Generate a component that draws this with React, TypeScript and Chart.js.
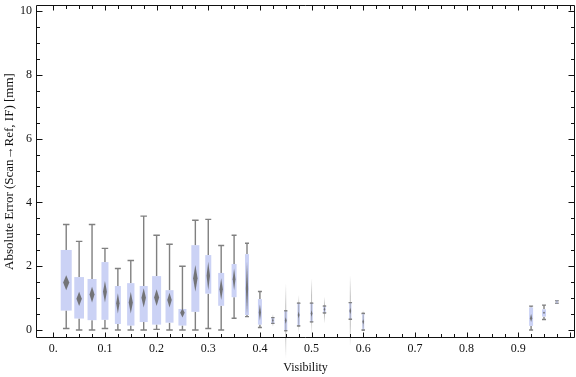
import React, { useEffect, useRef } from "react";
import { Chart, registerables } from "chart.js";

Chart.register(...registerables);

// Visibility bins (box centres)
const bins = [0.025, 0.05, 0.075, 0.1, 0.125, 0.15, 0.175, 0.2, 0.225, 0.25, 0.275, 0.3, 0.325, 0.35, 0.375, 0.4, 0.425, 0.45, 0.475, 0.5, 0.525, 0.575, 0.6, 0.925, 0.95, 0.975];
const whiskerLow = [0.05, 0, 0, 0.05, 0, 0, 0, 0.02, 0, 0, 0, 0.05, 0, 0.37, 0.42, 0.08, 0.21, -0.02, 0.13, 0.26, 0.54, 0.34, 0.0, 0.0, 0.33, 0.84];
const q1 = [0.61, 0.36, 0.31, 0.32, 0.19, 0.14, 0.25, 0.17, 0.23, 0.14, 0.57, 1.14, 0.76, 1.03, 0.47, 0.17, 0.21, -0.02, 0.15, 0.26, 0.54, 0.34, 0.02, 0.13, 0.42, 0.84];
const median = [1.49, 0.98, 1.11, 1.2, 0.84, 0.86, 1.01, 1.02, 0.94, 0.54, 1.62, 1.7, 1.28, 1.59, 1.3, 0.55, 0.3, 0.3, 0.47, 0.52, 0.65, 0.6, 0.26, 0.37, 0.54, 0.88];
const q3 = [2.51, 1.66, 1.6, 2.13, 1.38, 1.47, 1.38, 1.69, 1.25, 0.66, 2.66, 2.35, 1.79, 2.07, 2.38, 0.97, 0.39, 0.6, 0.84, 0.84, 0.75, 0.86, 0.5, 0.71, 0.65, 0.92];
const whiskerHigh = [3.31, 2.78, 3.31, 2.56, 1.93, 2.18, 3.57, 2.97, 2.69, 2.0, 3.44, 3.47, 2.65, 2.97, 2.72, 1.21, 0.39, 0.6, 0.84, 0.84, 0.75, 0.86, 0.52, 0.75, 0.78, 0.92];
const medianCiLow = [1.25, 0.75, 0.86, 0.86, 0.52, 0.52, 0.71, 0.75, 0.71, 0.39, 1.2, 1.25, 0.94, 1.25, 0.47, 0.3, 0.25, 0.2, 0.37, 0.42, 0.6, 0.5, 0.18, 0.25, 0.5, 0.86];
const medianCiHigh = [1.72, 1.2, 1.36, 1.54, 1.15, 1.2, 1.31, 1.28, 1.17, 0.68, 2.04, 2.14, 1.62, 1.93, 2.14, 0.8, 0.35, 0.4, 0.57, 0.62, 0.7, 0.7, 0.34, 0.5, 0.58, 0.9];
const faintLow: (number | null)[] = [null, null, null, null, null, null, null, null, null, null, null, null, null, null, null, null, 0.1, -0.88, -0.1, -0.16, 0.21, -0.52, -0.05, null, null, null];
const faintHigh: (number | null)[] = [null, null, null, null, null, null, null, null, null, null, null, null, null, null, null, null, 0.5, 1.46, 1.1, 1.62, 1.04, 1.72, 0.63, null, null, null];
const sampleWeight = [11, 9.7, 9, 7, 6, 7.3, 8, 9, 8, 8, 8, 6, 6, 5, 4, 4, 3, 3, 2.5, 2.5, 2.5, 2.3, 2, 4, 4, 2];

const xMajorTicks = [0, 0.1, 0.2, 0.3, 0.4, 0.5, 0.6, 0.7, 0.8, 0.9];
const xTickLabels = ["0.", "0.1", "0.2", "0.3", "0.4", "0.5", "0.6", "0.7", "0.8", "0.9"];
const xMinorTicks = Array.from({ length: 41 }, (_, i) => i * 0.025);
const yMajorTicks = [0, 2, 4, 6, 8, 10];
const yMinorTicks = Array.from({ length: 21 }, (_, i) => i * 0.5);

const FONT = "'Liberation Serif', 'Times New Roman', serif";
const BOX_FILL = "#cbd2f5";
const WHISKER = "#808080";
const MAXW = Math.max(...sampleWeight);

const boxPlugin = {
  id: "boxWhisker",
  afterDatasetsDraw(chart: any) {
    const { ctx, scales } = chart;
    const x = scales.x;
    const y = scales.y;
    ctx.save();
    bins.forEach((b, i) => {
      const cx = x.getPixelForValue(b);
      const w = (sampleWeight[i] / MAXW) * 11;
      const capW = Math.min(6.5, Math.max(w, 3.5));
      const yq1 = y.getPixelForValue(q1[i]);
      const yq3 = y.getPixelForValue(q3[i]);
      const ywl = y.getPixelForValue(whiskerLow[i]);
      const ywh = y.getPixelForValue(whiskerHigh[i]);
      ctx.strokeStyle = WHISKER;
      ctx.lineWidth = 1.4;
      ctx.beginPath();
      ctx.moveTo(cx, ywh);
      ctx.lineTo(cx, yq3);
      ctx.moveTo(cx, yq1);
      ctx.lineTo(cx, ywl);
      ctx.moveTo(cx - capW / 2, ywh);
      ctx.lineTo(cx + capW / 2, ywh);
      ctx.moveTo(cx - capW / 2, ywl);
      ctx.lineTo(cx + capW / 2, ywl);
      ctx.stroke();
      ctx.fillStyle = BOX_FILL;
      ctx.fillRect(cx - w / 2, yq3, w, yq1 - yq3);
      const fl = faintLow[i];
      const fh = faintHigh[i];
      if (fl !== null && fh !== null) {
        const ya = y.getPixelForValue(fh);
        const yb = y.getPixelForValue(fl);
        const g = ctx.createLinearGradient(0, ya, 0, yb);
        g.addColorStop(0, "rgba(128,128,128,0)");
        g.addColorStop(0.3, "rgba(128,128,128,0.5)");
        g.addColorStop(0.7, "rgba(128,128,128,0.5)");
        g.addColorStop(1, "rgba(128,128,128,0)");
        ctx.strokeStyle = g;
        ctx.lineWidth = 1;
        ctx.beginPath();
        ctx.moveTo(cx, ya);
        ctx.lineTo(cx, yb);
        ctx.stroke();
        ctx.strokeStyle = WHISKER;
        ctx.lineWidth = 1.2;
        ctx.beginPath();
        ctx.moveTo(cx - capW / 2 + 0.5, ywh);
        ctx.lineTo(cx + capW / 2 - 0.5, ywh);
        ctx.moveTo(cx - capW / 2 + 0.5, ywl);
        ctx.lineTo(cx + capW / 2 - 0.5, ywl);
        ctx.stroke();
      }
      const yd1 = y.getPixelForValue(medianCiHigh[i]);
      const yd2 = y.getPixelForValue(medianCiLow[i]);
      const ym = y.getPixelForValue(median[i]);
      const hw = Math.max(0.9, w * 0.28);
      ctx.save();
      ctx.filter = "blur(0.7px)";
      ctx.fillStyle = "rgba(105,105,105,0.9)";
      ctx.beginPath();
      ctx.moveTo(cx, yd1);
      ctx.lineTo(cx + hw, ym);
      ctx.lineTo(cx, yd2);
      ctx.lineTo(cx - hw, ym);
      ctx.closePath();
      ctx.fill();
      ctx.restore();
    });
    ctx.restore();
  },
  afterDraw(chart: any) {
    const { ctx, chartArea: a, scales } = chart;
    const x = scales.x;
    const y = scales.y;
    ctx.save();
    ctx.strokeStyle = "#111";
    ctx.lineWidth = 1;
    const L = Math.round(a.left) + 0.5;
    const R = Math.round(a.right) - 0.5;
    const T = Math.round(a.top) + 0.5;
    const B = Math.round(a.bottom) - 0.5;
    ctx.beginPath();
    ctx.rect(L, T, R - L, B - T);
    ctx.stroke();
    ctx.beginPath();
    xMinorTicks.forEach((v) => {
      const px = Math.round(x.getPixelForValue(v)) + 0.5;
      const major = xMajorTicks.some((m) => Math.abs(m - v) < 1e-6) || Math.abs(v - 1) < 1e-6;
      const len = major ? 5 : 3.5;
      ctx.moveTo(px, B);
      ctx.lineTo(px, B - len);
      ctx.moveTo(px, T);
      ctx.lineTo(px, T + len);
    });
    yMinorTicks.forEach((v) => {
      const py = Math.round(y.getPixelForValue(v)) + 0.5;
      const major = yMajorTicks.some((m) => Math.abs(m - v) < 1e-6);
      const len = major ? 6 : 3.5;
      ctx.moveTo(L, py);
      ctx.lineTo(L + len, py);
      ctx.moveTo(R, py);
      ctx.lineTo(R - len, py);
    });
    ctx.stroke();
    ctx.restore();
  },
};

export default function App() {
  const ref = useRef<HTMLCanvasElement | null>(null);
  useEffect(() => {
    if (!ref.current) return;
    const chart = new Chart(ref.current, {
      type: "scatter",
      data: {
        datasets: [
          {
            data: bins.map((b, i) => ({ x: b, y: median[i] })),
            pointRadius: 0,
            showLine: false,
          },
        ],
      },
      options: {
        animation: false,
        responsive: false,
        layout: { padding: { top: 5, right: 1, left: 0, bottom: 0 } },
        plugins: { legend: { display: false }, tooltip: { enabled: false } },
        scales: {
          x: {
            type: "linear",
            min: -0.0335,
            max: 1.01,
            grid: { display: false, drawTicks: false },
            border: { display: false },
            afterBuildTicks: (s: any) => {
              s.ticks = xMajorTicks.map((v) => ({ value: v }));
            },
            afterFit: (s: any) => {
              s.height = 39;
              s.paddingLeft = 0;
              s.paddingRight = 0;
            },
            ticks: {
              padding: 4,
              autoSkip: false,
              maxRotation: 0,
              color: "#111",
              font: { family: FONT, size: 12 },
              callback: (v: any) => {
                const idx = xMajorTicks.findIndex((m) => Math.abs(m - v) < 1e-6);
                return idx >= 0 ? xTickLabels[idx] : "";
              },
            },
            title: {
              display: true,
              text: "Visibility",
              color: "#111",
              font: { family: FONT, size: 12 },
              padding: { top: 0, bottom: 2 },
            },
          },
          y: {
            type: "linear",
            min: -0.25,
            max: 10.19,
            grid: { display: false, drawTicks: false },
            border: { display: false },
            afterBuildTicks: (s: any) => {
              s.ticks = yMajorTicks.map((v) => ({ value: v }));
            },
            afterFit: (s: any) => {
              s.width = 36;
              s.paddingTop = 0;
              s.paddingBottom = 0;
            },
            ticks: {
              padding: 4,
              color: "#111",
              font: { family: FONT, size: 12 },
              callback: (v: any) => String(v),
            },
            title: {
              display: true,
              text: "Absolute Error (Scan\u2192Ref, IF) [mm]",
              color: "#111",
              font: { family: FONT, size: 13 },
              padding: { top: 2, bottom: 0 },
            },
          },
        },
      },
      plugins: [boxPlugin],
    });
    return () => chart.destroy();
  }, []);
  return (
    <div style={{ position: "fixed", left: 0, top: 0, width: 576, height: 377, background: "#fff" }}>
      <canvas ref={ref} width={576} height={377} style={{ display: "block" }} />
    </div>
  );
}
